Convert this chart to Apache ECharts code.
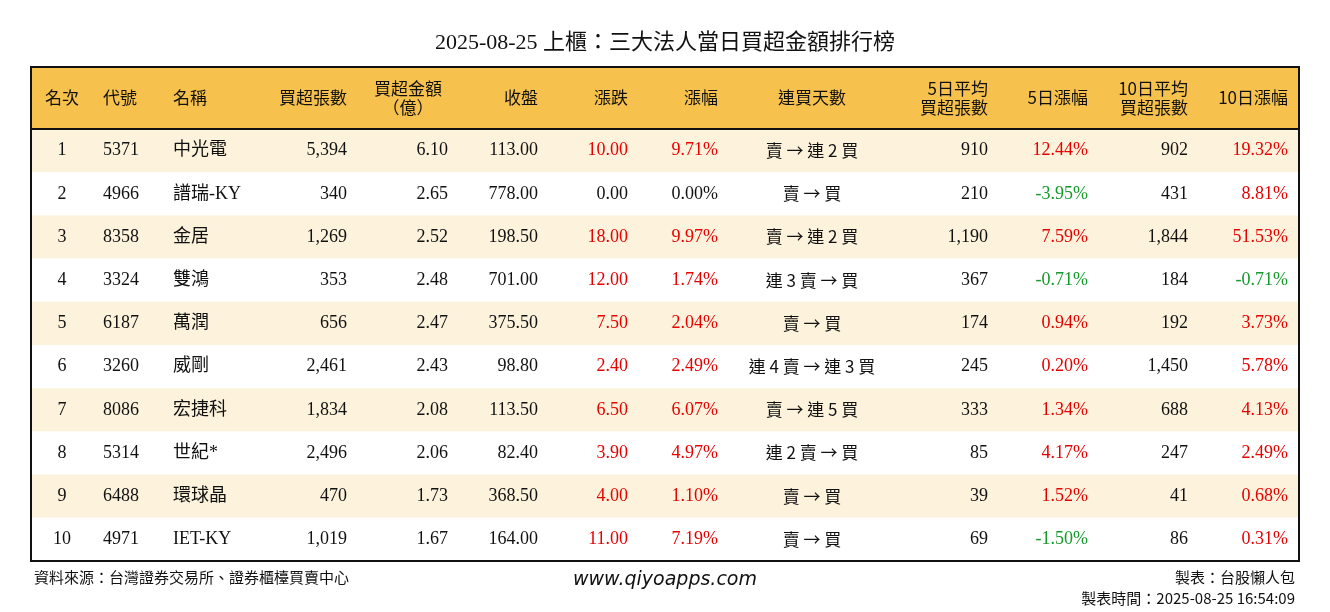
<!DOCTYPE html>
<html><head><meta charset="utf-8">
<script src="https://cdn.jsdelivr.net/npm/echarts@6/dist/echarts.min.js"></script>
<style>html,body{margin:0;background:#fff}#c{width:1330px;height:612px}</style>
</head><body><div id="c"></div>
<script>
const ranks=['1','2','3','4','5','6','7','8','9','10'];
const codes=['5371','4966','8358','3324','6187','3260','8086','5314','6488','4971'];
const names=['中光電','譜瑞-KY','金居','雙鴻','萬潤','威剛','宏捷科','世紀*','環球晶','IET-KY'];
const netLots=[5394,340,1269,353,656,2461,1834,2496,470,1019];
const netAmt=[6.10,2.65,2.52,2.48,2.47,2.43,2.08,2.06,1.73,1.67];
const closes=[113.00,778.00,198.50,701.00,375.50,98.80,113.50,82.40,368.50,164.00];
const changes=[10.00,0.00,18.00,12.00,7.50,2.40,6.50,3.90,4.00,11.00];
const pcts=[9.71,0.00,9.97,1.74,2.04,2.49,6.07,4.97,1.10,7.19];
const streaks=['賣 → 連 2 買','賣 → 買','賣 → 連 2 買','連 3 賣 → 買','賣 → 買','連 4 賣 → 連 3 買','賣 → 連 5 買','連 2 賣 → 買','賣 → 買','賣 → 買'];
const avg5=[910,210,1190,367,174,245,333,85,39,69];
const pct5=[12.44,-3.95,7.59,-0.71,0.94,0.20,1.34,4.17,1.52,-1.50];
const avg10=[902,431,1844,184,192,1450,688,247,41,86];
const pct10=[19.32,8.81,51.53,-0.71,3.73,5.78,4.13,2.49,0.68,0.31];
const headers=['名次','代號','名稱','買超張數','買超金額\n（億）','收盤','漲跌','漲幅','連買天數','5日平均\n買超張數','5日漲幅','10日平均\n買超張數','10日漲幅'];

const L=31,R=1299,T=129,B=561;
const colX=[62,103,173,347,448,538,628,718,812,988,1088,1188,1288].map(v=>v-L);
const colAlign=['center','left','left','right','right','right','right','right','center','right','right','right','right'];
const hdrX=[62,103,173,347,408,538,628,718,812,988,1088,1188,1288].map(v=>v-L);
const hdrAlign=['center','left','left','right','center','right','right','right','center','right','right','right','right'];
const RED='#e60000',GREEN='#14992a';
const fmtInt=v=>v.toLocaleString('en-US');
const col=v=>v>0?RED:(v<0?GREEN:'#111');
const FONT='"Liberation Serif","Noto Sans CJK TC",serif';

const rows=ranks.map((r,i)=>[i,r]);
const chart=echarts.init(document.getElementById('c'));
chart.setOption({
  animation:false,
  title:{text:'2025-08-25 上櫃：三大法人當日買超金額排行榜',left:'center',top:27,textStyle:{fontFamily:FONT,fontSize:22,fontWeight:'normal',color:'#111'}},
  grid:{left:L,right:1330-R,top:T,bottom:612-B},
  xAxis:{type:'value',min:0,max:R-L,show:false},
  yAxis:{type:'category',data:ranks,inverse:true,show:false},
  series:[{type:'custom',data:rows,encode:{y:1},
    renderItem:(params,api)=>{
      const i=api.value(0);
      const c=api.coord([0,ranks[i]]);
      const h=api.size([0,1])[1];
      const w=api.size([R-L,0])[0];
      const x0=c[0],yc=c[1];
      const cells=[ranks[i],codes[i],names[i],fmtInt(netLots[i]),netAmt[i].toFixed(2),closes[i].toFixed(2),
        changes[i].toFixed(2),pcts[i].toFixed(2)+'%',streaks[i],fmtInt(avg5[i]),pct5[i].toFixed(2)+'%',fmtInt(avg10[i]),pct10[i].toFixed(2)+'%'];
      const colors=['#111','#111','#111','#111','#111','#111',col(changes[i]),col(pcts[i]),'#111','#111',col(pct5[i]),'#111',col(pct10[i])];
      const ch=[{type:'rect',shape:{x:x0,y:yc-h/2,width:w,height:h},style:{fill:i%2===0?'#fdf3dc':'#ffffff'}}];
      cells.forEach((t,k)=>ch.push({type:'text',x:x0+colX[k],y:yc,style:{text:t,fill:colors[k],
        font:(k===8?'17px "Noto Sans CJK TC",sans-serif':'18px '+FONT),align:colAlign[k],verticalAlign:'middle'}}));
      return {type:'group',children:ch};
    }}],
  graphic:[
    {type:'rect',shape:{x:L,y:67,width:R-L,height:T-67},style:{fill:'#f7c14d'}},
    ...headers.map((t,k)=>({type:'text',x:L+hdrX[k],y:98,style:{text:t,font:'17px "Noto Sans CJK TC",sans-serif',fill:'#111',align:hdrAlign[k],verticalAlign:'middle',lineHeight:19}})),
    {type:'rect',z:100,shape:{x:L,y:67,width:R-L,height:B-67},style:{fill:null,stroke:'#111',lineWidth:2}},
    {type:'line',z:100,shape:{x1:L,y1:T,x2:R,y2:T},style:{stroke:'#111',lineWidth:2}},
    {type:'text',x:34,y:577,style:{text:'資料來源：台灣證券交易所、證券櫃檯買賣中心',font:'15px "Noto Sans CJK TC",sans-serif',fill:'#111',verticalAlign:'middle'}},
    {type:'text',x:665,y:580,style:{text:'www.qiyoapps.com',font:'italic 19px "DejaVu Sans",sans-serif',fill:'#111',align:'center',verticalAlign:'middle'}},
    {type:'text',x:1295,y:577,style:{text:'製表：台股懶人包',font:'15px "Noto Sans CJK TC",sans-serif',fill:'#111',align:'right',verticalAlign:'middle'}},
    {type:'text',x:1295,y:598,style:{text:'製表時間：2025-08-25 16:54:09',font:'15px "Noto Sans CJK TC",sans-serif',fill:'#111',align:'right',verticalAlign:'middle'}}
  ]
});
</script></body></html>
